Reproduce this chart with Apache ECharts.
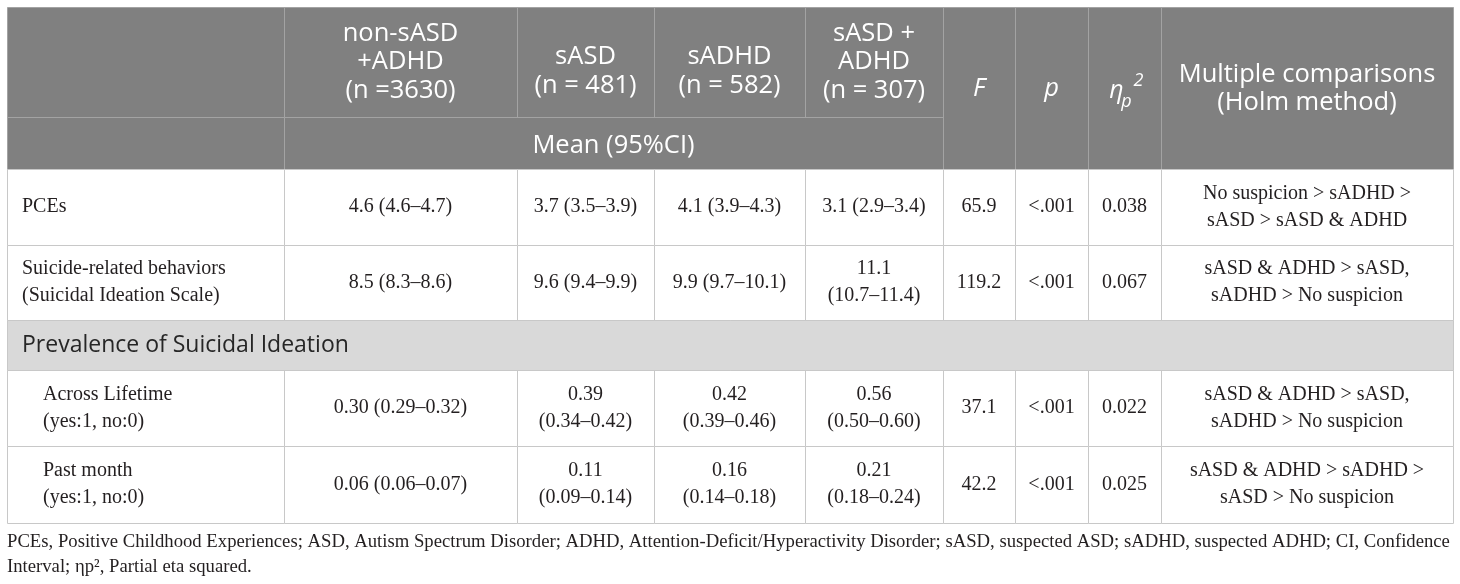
<!DOCTYPE html>
<html>
<head>
<meta charset="utf-8">
<script src="https://cdn.jsdelivr.net/npm/echarts@6/dist/echarts.min.js"></script>
<style>
  html, body { margin: 0; padding: 0; background: #fff; }
  #main { width: 1460px; height: 584px; }
</style>
</head>
<body>
<div id="main"></div>
<script>
// ---- table content ----
const groupHeaders = ['non-sASD\n+ADHD\n(n =3630)', 'sASD\n(n = 481)', 'sADHD\n(n = 582)', 'sASD +\nADHD\n(n = 307)'];
const statHeaders = ['F', 'p', 'ηp2', 'Multiple comparisons\n(Holm method)'];
const meanLabel = 'Mean (95%CI)';
const sectionLabel = 'Prevalence of Suicidal Ideation';
const rowLabels = ['PCEs', 'Suicide-related behaviors\n(Suicidal Ideation Scale)', 'Across Lifetime\n(yes:1, no:0)', 'Past month\n(yes:1, no:0)'];
const meanNoSuspicion = ['4.6 (4.6–4.7)', '8.5 (8.3–8.6)', '0.30 (0.29–0.32)', '0.06 (0.06–0.07)'];
const meanSASD = ['3.7 (3.5–3.9)', '9.6 (9.4–9.9)', '0.39\n(0.34–0.42)', '0.11\n(0.09–0.14)'];
const meanSADHD = ['4.1 (3.9–4.3)', '9.9 (9.7–10.1)', '0.42\n(0.39–0.46)', '0.16\n(0.14–0.18)'];
const meanBoth = ['3.1 (2.9–3.4)', '11.1\n(10.7–11.4)', '0.56\n(0.50–0.60)', '0.21\n(0.18–0.24)'];
const fValues = [65.9, 119.2, 37.1, 42.2];
const pValues = ['<.001', '<.001', '<.001', '<.001'];
const etaValues = [0.038, 0.067, 0.022, 0.025];
const comparisons = [
  'No suspicion > sADHD >\nsASD > sASD & ADHD',
  'sASD & ADHD > sASD,\nsADHD > No suspicion',
  'sASD & ADHD > sASD,\nsADHD > No suspicion',
  'sASD & ADHD > sADHD >\nsASD > No suspicion'
];
const footnote = 'PCEs, Positive Childhood Experiences; ASD, Autism Spectrum Disorder; ADHD, Attention-Deficit/Hyperactivity Disorder; sASD, suspected ASD; sADHD, suspected ADHD; CI, Confidence\nInterval; ηp², Partial eta squared.';

// ---- layout (axis units are pixels inside the grid) ----
const colEdges = [0, 277, 510, 647, 798, 936, 1008, 1081, 1154, 1446];
const rowEdges = [0, 110, 162, 238, 313, 363, 439, 516];
const bodyRows = [2, 3, 5, 6];

const SANS = '"Open Sans", "Noto Sans", sans-serif';
const SERIF = '"Liberation Serif", "DejaVu Serif", serif';

const kinds = {
  head:    { fill: '#808080', stroke: '#a3a3a3' },
  section: { fill: '#d9d9d9', stroke: '#c8c8c8' },
  body:    { fill: '#ffffff', stroke: '#c8c8c8' }
};

// build cell list
const cells = [];
function addCell(c0, c1, r0, r1, text, kind, opts) {
  cells.push(Object.assign({ c0, c1, r0, r1, text, kind }, opts || {}));
}
addCell(0, 1, 0, 1, '', 'head');
addCell(0, 1, 1, 2, '', 'head');
groupHeaders.forEach((t, i) => addCell(i + 1, i + 2, 0, 1, t, 'head', { group: true }));
addCell(1, 5, 1, 2, meanLabel, 'head');
statHeaders.forEach((t, i) => addCell(i + 5, i + 6, 0, 2, t, 'head', { italic: i < 2, eta: i === 2 }));
bodyRows.forEach((r, k) => {
  addCell(0, 1, r, r + 1, rowLabels[k], 'body', { align: 'left', indent: k >= 2 ? 36 : 15 });
  [meanNoSuspicion, meanSASD, meanSADHD, meanBoth].forEach((arr, j) => addCell(j + 1, j + 2, r, r + 1, arr[k], 'body'));
  addCell(5, 6, r, r + 1, fValues[k].toFixed(1), 'body');
  addCell(6, 7, r, r + 1, pValues[k], 'body');
  addCell(7, 8, r, r + 1, etaValues[k].toFixed(3), 'body');
  addCell(8, 9, r, r + 1, comparisons[k], 'body');
});
addCell(0, 9, 4, 5, sectionLabel, 'section', { align: 'left', indent: 15 });

function renderItem(params, api) {
  const c = cells[params.dataIndex];
  const tl = api.coord([api.value(0), api.value(2)]);
  const br = api.coord([api.value(1), api.value(3)]);
  const x0 = Math.round(tl[0]), y0 = Math.round(tl[1]);
  const x1 = Math.round(br[0]), y1 = Math.round(br[1]);
  const k = kinds[c.kind];
  const children = [{
    type: 'rect',
    shape: { x: x0 + 0.5, y: y0 + 0.5, width: x1 - x0, height: y1 - y0 },
    style: { fill: k.fill, stroke: k.stroke, lineWidth: 1 }
  }];
  if (!c.text) return { type: 'group', children };

  const cx = c.align === 'left' ? x0 + c.indent : (x0 + x1) / 2;
  const cy = (y0 + y1) / 2;
  if (c.kind === 'head') {
    if (c.eta) {
      const ty = cy + 15;
      children.push(
        { type: 'text', style: { text: 'η', x: cx - 8, y: ty, align: 'center', verticalAlign: 'bottom', fill: '#fff', font: 'italic 25px ' + SANS } },
        { type: 'text', style: { text: 'p', x: cx + 2, y: ty + 8, align: 'center', verticalAlign: 'bottom', fill: '#fff', font: 'italic 18px ' + SANS } },
        { type: 'text', style: { text: '2', x: cx + 14, y: ty - 13, align: 'center', verticalAlign: 'bottom', fill: '#fff', font: 'italic 18px ' + SANS } }
      );
    } else {
      // two-line group headers sit a little lower than the three-line ones
      const lines = c.text.split('\n').length;
      const dy = c.group ? (3 - lines) * 9 : (c.r1 - c.r0 === 1 ? 3 : 1);
      children.push({
        type: 'text',
        style: {
          text: c.text, x: cx, y: cy + dy, align: 'center', verticalAlign: 'middle',
          fill: '#ffffff', font: (c.italic ? 'italic ' : '') + '25.5px ' + SANS,
          lineHeight: c.group ? 28.5 : 28
        }
      });
    }
  } else if (c.kind === 'section') {
    children.push({
      type: 'text',
      style: { text: c.text, x: cx, y: cy, align: 'left', verticalAlign: 'middle', fill: '#262626', font: '23px ' + SANS }
    });
  } else {
    children.push({
      type: 'text',
      style: {
        text: c.text, x: cx, y: cy, align: c.align || 'center', verticalAlign: 'middle',
        fill: '#231f20', font: '20px ' + SERIF, lineHeight: 27
      }
    });
  }
  return { type: 'group', children };
}

const chart = echarts.init(document.getElementById('main'), null, { renderer: 'canvas' });
chart.setOption({
  animation: false,
  backgroundColor: '#ffffff',
  title: {
    text: footnote,
    left: 7, top: 530, padding: 0,
    textStyle: { fontFamily: SERIF, fontSize: 18.7, fontWeight: 'normal', color: '#231f20', lineHeight: 25 }
  },
  grid: { left: 7, top: 7, width: 1446, height: 516 },
  xAxis: { type: 'value', min: 0, max: colEdges[colEdges.length - 1], show: false },
  yAxis: { type: 'value', min: 0, max: rowEdges[rowEdges.length - 1], inverse: true, show: false },
  series: [{
    type: 'custom',
    renderItem: renderItem,
    silent: true,
    data: cells.map(c => [colEdges[c.c0], colEdges[c.c1], rowEdges[c.r0], rowEdges[c.r1]])
  }]
});
</script>
</body>
</html>
